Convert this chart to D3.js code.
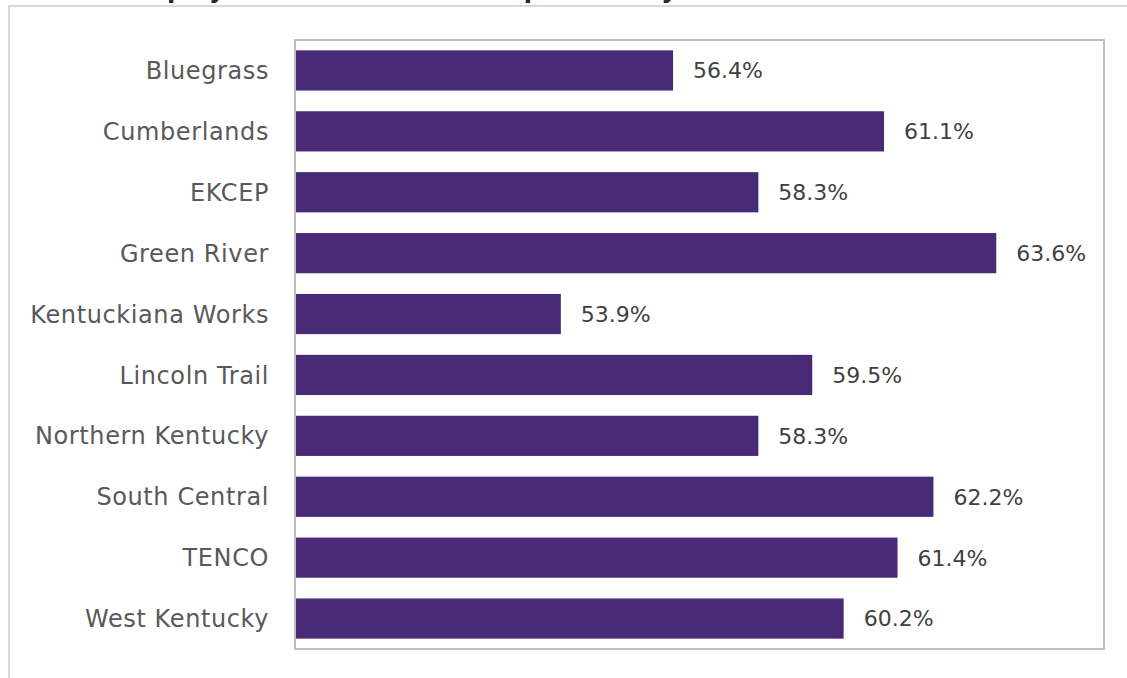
<!DOCTYPE html>
<html>
<head>
<meta charset="utf-8">
<script src="https://cdn.jsdelivr.net/npm/d3@7"></script>
<style>
  body { margin:0; background:#fff; }
  text { font-family:"DejaVu Sans", Verdana, sans-serif; }
</style>
</head>
<body>
<script>
// regions and values (share)
var regions = ['Bluegrass','Cumberlands','EKCEP','Green River','Kentuckiana Works',
  'Lincoln Trail','Northern Kentucky','South Central','TENCO','West Kentucky'];
var rates = [0.564, 0.611, 0.583, 0.636, 0.539, 0.595, 0.583, 0.622, 0.614, 0.602];
var xDomain = [0.48, 0.66];

var params = {
  width:1127
, height:678
, left:296
, right:1104
, top:40
, bottom:649}

var svg = d3.select('body').append('svg')
  .attr('width', params.width)
  .attr('height', params.height);

// title, mostly cut off above the frame
var title = svg.append('text')
  .attr('y', -2)
  .style('font-size', '24px')
  .style('font-weight', 'bold')
  .attr('fill', '#262626')
  .text('Employment Rate of Adult Population by Area');
var tmp = svg.append('text').style('font-size','24px').style('font-weight','bold').text('Em');
var emW = tmp.node().getComputedTextLength();
tmp.remove();
title.attr('x', 167 - emW);

// outer chart frame
svg.append('path')
  .attr('d', 'M9,' + params.height + 'V6H' + params.width)
  .attr('fill', 'none')
  .attr('stroke', '#d9d9d9')
  .attr('stroke-width', 2);

var x = d3.scaleLinear().domain(xDomain).range([params.left, params.right]);
var y = d3.scaleBand().domain(regions).range([params.top, params.bottom]).paddingInner(0.34).paddingOuter(0.17);

// plot area border
svg.append('rect')
  .attr('x', params.left - 1)
  .attr('y', params.top)
  .attr('width', params.right - params.left + 1)
  .attr('height', params.bottom - params.top)
  .attr('fill', 'none')
  .attr('stroke', '#bfbfbf')
  .attr('stroke-width', 2);

var bars = svg.selectAll('.bar').data(regions).enter().append('g').classed('bar', true);

bars.append('rect')
  .attr('x', x(xDomain[0]))
  .attr('y', function(d){ return y(d); })
  .attr('width', function(d, i){ return x(rates[i]) - x(xDomain[0]); })
  .attr('height', y.bandwidth())
  .attr('fill', '#482a77');

bars.append('text')
  .attr('x', function(d, i){ return x(rates[i]) + 20; })
  .attr('y', function(d){ return y(d) + y.bandwidth()/2; })
  .attr('dy', '0.36em')
  .attr('fill', '#404040')
  .style('font-size', '22px')
  .text(function(d, i){ return d3.format('.1%')(rates[i]); });

// category axis, no line or ticks
var yAxis = svg.append('g')
  .attr('transform', 'translate(' + (params.left - 27) + ',0)')
  .call(d3.axisLeft(y).tickSize(0).tickPadding(0));
yAxis.select('.domain').remove();
yAxis.selectAll('text')
  .attr('fill', '#595959')
  .attr('dy', '0.36em')
  .style('font-size', '24px')
  .style('letter-spacing', '0.6px')
  .style('font-family', '"DejaVu Sans", Verdana, sans-serif');
</script>
</body>
</html>
